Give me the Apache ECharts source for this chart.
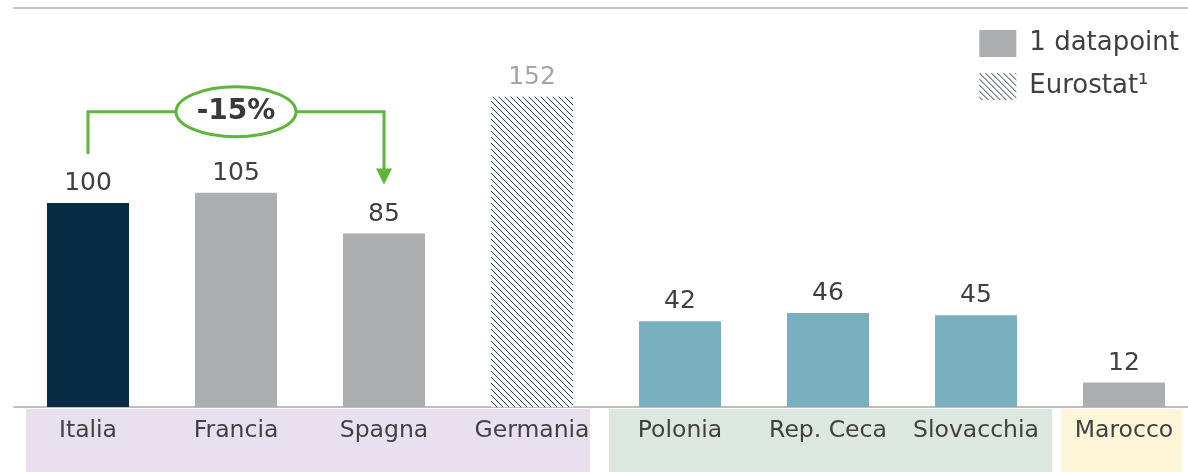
<!DOCTYPE html>
<html>
<head>
<meta charset="utf-8">
<script src="https://cdn.jsdelivr.net/npm/echarts@6/dist/echarts.min.js"></script>
<style>
  html, body { margin: 0; padding: 0; background: #fff; }
  #main { width: 1188px; height: 472px; }
</style>
</head>
<body>
<div id="main"></div>
<script>
// data
const countries = ['Italia', 'Francia', 'Spagna', 'Germania', 'Polonia', 'Rep. Ceca', 'Slovacchia', 'Marocco'];
const values = [100, 105, 85, 152, 42, 46, 45, 12];
const kinds = ['italia', 'point', 'point', 'eurostat', 'cee', 'cee', 'cee', 'point'];
const groups = [[0, 3], [4, 6], [7, 7]];
const deltaLabel = '-15%';
const deltaFrom = 0, deltaTo = 2;

const FONT = 'DejaVu Sans';
const GREEN = '#5DB53A';

function hatch() {
  const c = document.createElement('canvas');
  c.width = 6; c.height = 6;
  const g = c.getContext('2d');
  g.fillStyle = '#fff';
  g.fillRect(0, 0, 6, 6);
  g.strokeStyle = '#1f3d52';
  g.lineWidth = 1;
  g.beginPath();
  g.moveTo(-1, -1); g.lineTo(7, 7);
  g.moveTo(-1, 5); g.lineTo(1, 7);
  g.moveTo(5, -1); g.lineTo(7, 1);
  g.stroke();
  return c;
}
const hatchFill = { image: hatch(), repeat: 'repeat' };

const kindColor = {
  italia: '#062D44',
  point: '#ADAEB2',
  eurostat: hatchFill,
  cee: '#78B0BF'
};
const bandColors = ['#E8E0EF', '#DCE8DF', '#FFF5D8'];
const bandPad = [[62, 58], [71, 76], [63, 58]];

let chartDom = document.getElementById('main');
let myChart = echarts.init(chartDom);

let option = {
  animation: false,
  textStyle: { fontFamily: FONT },
  grid: { left: 14, width: 1184, top: 7, height: 400, outerBoundsMode: 'none', containLabel: false },
  legend: {
    orient: 'vertical',
    right: 4,
    top: 25,
    icon: 'rect',
    itemWidth: 37,
    itemHeight: 27,
    itemGap: 16,
    textStyle: { fontSize: 26, color: '#404040', fontFamily: FONT, padding: [0, 0, 0, 8] },
    data: ['1 datapoint', 'Eurostat¹']
  },
  xAxis: {
    type: 'category',
    data: countries,
    axisLine: { lineStyle: { color: '#BDBDBD', width: 2 } },
    axisTick: { show: false },
    axisLabel: { interval: 0, fontSize: 23.5, color: '#404040', margin: 12, fontFamily: FONT }
  },
  yAxis: { type: 'value', min: 0, max: 196, show: false, splitLine: { show: false } },
  series: [
    {
      name: '1 datapoint',
      type: 'bar',
      stack: 'all',
      barWidth: 82,
      itemStyle: { color: kindColor.point },
      label: { show: true, position: 'top', distance: 7, fontSize: 25, color: '#404040', fontFamily: FONT },
      data: values.map((v, i) => ({
        value: v,
        itemStyle: { color: kindColor[kinds[i]] },
        label: kinds[i] === 'eurostat' ? { color: '#A6A6A6' } : undefined
      }))
    },
    {
      name: 'Eurostat¹',
      type: 'bar',
      stack: 'all',
      barWidth: 82,
      itemStyle: { color: hatchFill },
      data: []
    }
  ]
};
myChart.setOption(option);

// decorations placed from the axis scale
const px = (i, v) => myChart.convertToPixel({ xAxisIndex: 0, yAxisIndex: 0 }, [i, v]);
const base = px(0, 0)[1];
const graphic = [];

graphic.push({
  type: 'line', z: 1,
  shape: { x1: 13, y1: 8, x2: 1188, y2: 8 },
  style: { stroke: '#C4C4C4', lineWidth: 2 }
});

groups.forEach((g, k) => {
  const x0 = px(g[0], 0)[0] - bandPad[k][0];
  const x1 = px(g[1], 0)[0] + bandPad[k][1];
  graphic.push({
    type: 'rect', z: -1,
    shape: { x: x0, y: base + 2, width: x1 - x0, height: 472 - base - 2 },
    style: { fill: bandColors[k] }
  });
});

const pA = px(deltaFrom, values[deltaFrom]);
const pB = px(deltaTo, values[deltaTo]);
const topY = px(1, values[1])[1] - 81;
const midX = (pA[0] + pB[0]) / 2;
const startY = pA[1] - 49;
const endY = pB[1] - 49;
graphic.push({
  type: 'polyline', z: 5,
  shape: { points: [[pA[0], startY], [pA[0], topY], [pB[0], topY], [pB[0], endY - 14]] },
  style: { stroke: GREEN, lineWidth: 3, fill: null }
});
graphic.push({
  type: 'polygon', z: 5,
  shape: { points: [[pB[0] - 8, endY - 16], [pB[0] + 8, endY - 16], [pB[0], endY]] },
  style: { fill: GREEN }
});
graphic.push({
  type: 'ellipse', z: 6,
  shape: { cx: midX, cy: topY, rx: 60, ry: 25 },
  style: { fill: '#fff', stroke: GREEN, lineWidth: 3 }
});
graphic.push({
  type: 'text', z: 7,
  x: midX, y: topY,
  style: {
    text: deltaLabel, fontSize: 28, fontWeight: 'bold', fontFamily: FONT,
    fill: '#3A3A3A', align: 'center', verticalAlign: 'middle'
  }
});

myChart.setOption({ graphic: graphic });
</script>
</body>
</html>
